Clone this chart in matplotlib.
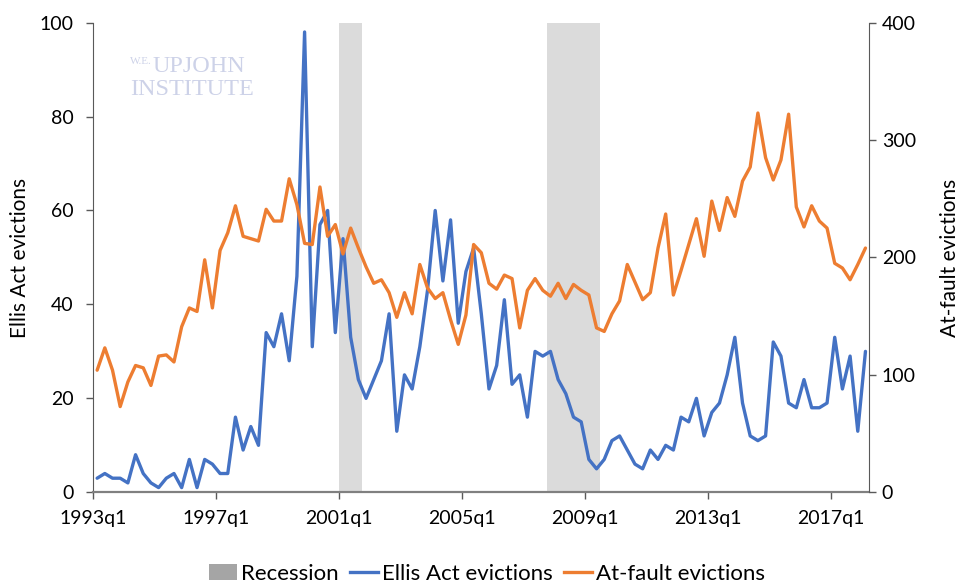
import numpy as np
import matplotlib
matplotlib.use("Agg")
import matplotlib.pyplot as plt
from matplotlib.patches import Patch
from matplotlib.lines import Line2D

plt.rcParams['font.family'] = ['Lato', 'DejaVu Sans']

# Quarterly categories 1993q1 .. 2018q1
start_year, end_year, end_q = 1993, 2018, 1
quarters = [f"{y}q{q}" for y in range(start_year, end_year + 1) for q in range(1, 5)]
quarters = quarters[:quarters.index(f"{end_year}q{end_q}") + 1]

ellis = [3, 4, 3, 3, 2, 8, 4, 2, 1, 3, 4, 1, 7, 1, 7, 6, 4, 4, 16, 9,
         14, 10, 34, 31, 38, 28, 46, 98, 31, 57, 60, 34, 54, 33, 24, 20, 24, 28, 38, 13,
         25, 22, 31, 43, 60, 45, 58, 36, 47, 52, 38, 22, 27, 41, 23, 25, 16, 30, 29, 30,
         24, 21, 16, 15, 7, 5, 7, 11, 12, 9, 6, 5, 9, 7, 10, 9, 16, 15, 20, 12,
         17, 19, 25, 33, 19, 12, 11, 12, 32, 29, 19, 18, 24, 18, 18, 19, 33, 22, 29, 13,
         30]

atfault = [104, 123, 104, 73, 94, 108, 106, 91, 116, 117, 111, 141, 157, 154, 198, 157, 206, 221, 244, 218,
           216, 214, 241, 231, 231, 267, 245, 212, 211, 260, 218, 228, 203, 225, 208, 192, 178, 181, 170, 149,
           170, 152, 194, 174, 165, 170, 147, 126, 151, 211, 204, 178, 173, 185, 182, 140, 172, 182, 172, 167,
           178, 165, 177, 172, 168, 140, 137, 152, 163, 194, 179, 164, 170, 208, 237, 168, 189, 211, 233, 201,
           248, 223, 251, 235, 265, 277, 323, 285, 266, 283, 322, 243, 226, 244, 231, 225, 195, 191, 181, 194,
           208]

recessions = [("2001q1", "2001q3"), ("2007q4", "2009q2")]
tick_labels = ["1993q1", "1997q1", "2001q1", "2005q1", "2009q1", "2013q1", "2017q1"]

blue = '#4472C4'
orange = '#ED7D31'
rec_color = '#a5a5a5'

fig = plt.figure(figsize=(9.68, 5.83), dpi=100)
ax = fig.add_axes([93.3 / 968, 1 - 492.3 / 583, (869.3 - 93.3) / 968, (492.3 - 22.6) / 583])
ax2 = ax.twinx()

x = np.arange(len(quarters))
for s, e in recessions:
    ax.axvspan(quarters.index(s) - 0.5, quarters.index(e) + 0.5, color=rec_color, alpha=0.4, lw=0, zorder=0)

ax.plot(x, ellis, color=blue, lw=2.4, zorder=3, solid_joinstyle='round', solid_capstyle='round')
ax2.plot(x, atfault, color=orange, lw=2.4, zorder=3, solid_joinstyle='round', solid_capstyle='round')

ax.set_xlim(-0.5, len(quarters) - 0.5)
ax.set_ylim(0, 100)
ax2.set_ylim(0, 400)
ax.set_yticks(range(0, 101, 20))
ax2.set_yticks(range(0, 401, 100))
ax.set_xticks([quarters.index(t) - 0.5 for t in tick_labels])
ax.set_xticklabels(tick_labels)

fs = 14
ax.tick_params(axis='x', direction='out', length=5, width=1, color='#595959', labelsize=fs, pad=8)
ax.tick_params(axis='y', direction='out', length=5, width=1, color='#595959', labelsize=fs, pad=9)
ax2.tick_params(axis='y', direction='out', length=5, width=1, color='#595959', labelsize=fs, pad=4)

for a in (ax, ax2):
    a.spines['top'].set_visible(False)
ax2.spines['left'].set_visible(False)
ax2.spines['bottom'].set_visible(False)
ax.spines['right'].set_visible(False)
ax.spines['left'].set_color('#595959')
ax2.spines['right'].set_color('#595959')
ax.spines['bottom'].set_color('#808080')
ax.spines['bottom'].set_linewidth(1.6)

ax.set_ylabel("Ellis Act evictions", fontsize=15, labelpad=7)
ax2.set_ylabel("At-fault evictions", fontsize=15, labelpad=17)

# watermark
wm = '#cdd2e8'
fig.text(130 / 968, 1 - 64 / 583, "W.E.", fontsize=8, color=wm, family='Liberation Serif')
fig.text(153 / 968, 1 - 72 / 583, "UPJOHN", fontsize=17.5, color=wm, family='Liberation Serif')
fig.text(130 / 968, 1 - 95 / 583, "INSTITUTE", fontsize=17.5, color=wm, family='Liberation Serif')

handles = [Patch(facecolor=rec_color, edgecolor='none'),
           Line2D([], [], color=blue, lw=2.4),
           Line2D([], [], color=orange, lw=2.4)]
labels = ["Recession", "Ellis Act evictions", "At-fault evictions"]
fig.legend(handles, labels, loc='lower center', bbox_to_anchor=(0.503, -0.036), ncol=3, frameon=False,
           fontsize=16, handlelength=1.25, handletextpad=0.2, columnspacing=0.5)

fig.savefig("out.png", dpi=100)
